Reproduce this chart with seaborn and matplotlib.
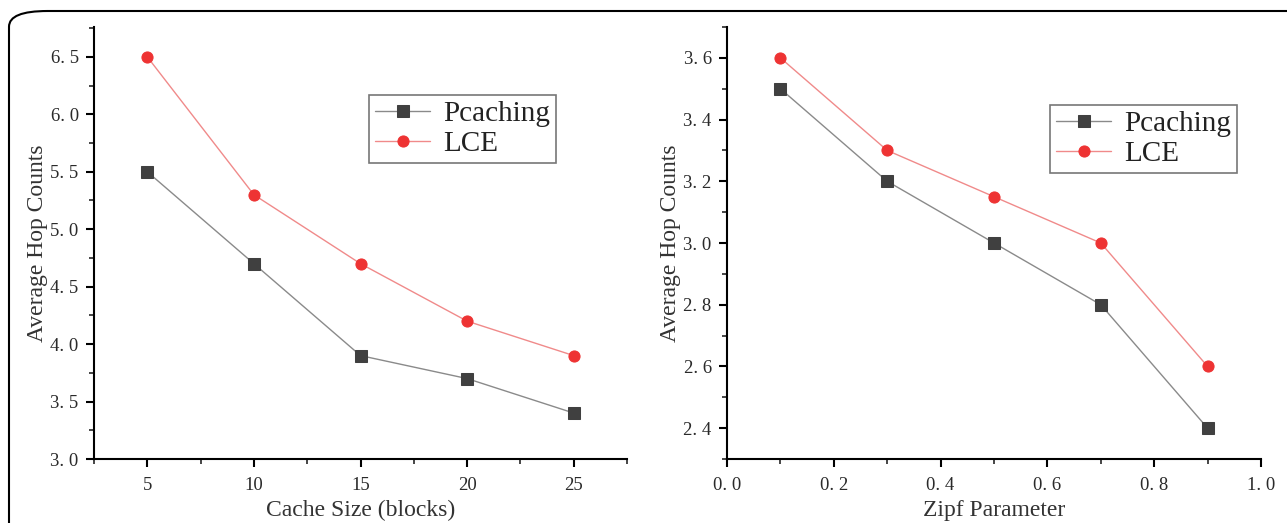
import pandas as pd
import numpy as np
import matplotlib.pyplot as plt
import seaborn as sns
from matplotlib.patches import FancyBboxPatch
from matplotlib.ticker import MultipleLocator, FuncFormatter

sns.set_style("ticks")
plt.rcParams['font.family'] = ['Liberation Serif', 'DejaVu Serif']

# Data
cache_size = [5, 10, 15, 20, 25]
pcaching_cache = [5.5, 4.7, 3.9, 3.7, 3.4]
lce_cache = [6.5, 5.3, 4.7, 4.2, 3.9]

zipf = [0.1, 0.3, 0.5, 0.7, 0.9]
pcaching_zipf = [3.5, 3.2, 3.0, 2.8, 2.4]
lce_zipf = [3.6, 3.3, 3.15, 3.0, 2.6]

series = ["Pcaching", "LCE"]
line_colors = {"Pcaching": "#8a8a8a", "LCE": "#f08a8a"}
marker_colors = {"Pcaching": "#404040", "LCE": "#ee3333"}
markers = {"Pcaching": "s", "LCE": "o"}

df_cache = pd.DataFrame({"x": cache_size * 2,
                         "y": pcaching_cache + lce_cache,
                         "Method": ["Pcaching"] * 5 + ["LCE"] * 5})
df_zipf = pd.DataFrame({"x": zipf * 2,
                        "y": pcaching_zipf + lce_zipf,
                        "Method": ["Pcaching"] * 5 + ["LCE"] * 5})

fig = plt.figure(figsize=(12.87, 5.23), dpi=100)
W, H = 1287, 523

# rounded frame around the figure
frame = FancyBboxPatch((9 / W, -0.1), 1.2, 1.1 - 11 / H,
                       boxstyle="round,pad=0,rounding_size=0.03",
                       transform=fig.transFigure, fill=False,
                       edgecolor="black", linewidth=1.5)
fig.patches.append(frame)

ax1 = fig.add_axes([94 / W, 1 - 459 / H, (627 - 94) / W, (459 - 27) / H])
ax2 = fig.add_axes([727 / W, 1 - 459 / H, (1261 - 727) / W, (459 - 27) / H])

# tick labels written like "6. 5" (wide full stop as in the original)
spaced = FuncFormatter(lambda v, p: ("%.1f" % v).replace(".", ". "))


def draw(ax, df):
    for name in series:
        sub = df[df["Method"] == name]
        sns.lineplot(data=sub, x="x", y="y", ax=ax, color=line_colors[name],
                     linewidth=1.0, marker=markers[name], markersize=8,
                     markerfacecolor=marker_colors[name],
                     markeredgecolor=marker_colors[name], label=name)
    for s in ["top", "right"]:
        ax.spines[s].set_visible(False)
    for s in ["left", "bottom"]:
        ax.spines[s].set_linewidth(1.5)
        ax.spines[s].set_color("black")
    ax.tick_params(which="major", direction="out", length=6, width=1.5,
                   labelsize=13.5, colors="black", labelcolor="#2a2a2a", pad=5)
    ax.tick_params(axis="x", which="major", pad=7)
    ax.tick_params(which="minor", direction="out", length=3.5, width=1.2)
    ax.grid(False)


def add_legend(ax, anchor):
    leg = ax.legend(loc="upper left", bbox_to_anchor=anchor,
                    fontsize=21, frameon=True, fancybox=False, borderpad=0.2,
                    handlelength=1.9, handletextpad=0.45, labelspacing=0.12,
                    borderaxespad=0)
    leg.get_frame().set_edgecolor("#555555")
    leg.get_frame().set_linewidth(1.2)
    for t in leg.get_texts():
        t.set_color("#222222")


draw(ax1, df_cache)
ax1.set_xlim(2.5, 27.5)
ax1.set_ylim(3.0, 6.76)
ax1.xaxis.set_major_locator(MultipleLocator(5))
ax1.xaxis.set_minor_locator(MultipleLocator(2.5))
ax1.yaxis.set_major_locator(MultipleLocator(0.5))
ax1.yaxis.set_minor_locator(MultipleLocator(0.25))
ax1.yaxis.set_major_formatter(spaced)
ax1.set_xlabel("Cache Size (blocks)", fontsize=17, color="#333333", labelpad=4)
ax1.set_ylabel("Average Hop Counts", fontsize=17, color="#333333", labelpad=2)
add_legend(ax1, ((369 - 94) / 533, (459 - 95) / 432))

draw(ax2, df_zipf)
ax2.set_xlim(0.0, 1.0)
ax2.set_ylim(2.3, 3.7)
ax2.xaxis.set_major_locator(MultipleLocator(0.2))
ax2.xaxis.set_minor_locator(MultipleLocator(0.1))
ax2.yaxis.set_minor_locator(MultipleLocator(0.1))
ax2.set_yticks([2.4, 2.6, 2.8, 3.0, 3.2, 3.4, 3.6])
ax2.xaxis.set_major_formatter(spaced)
ax2.yaxis.set_major_formatter(spaced)
ax2.set_xlabel("Zipf Parameter", fontsize=17, color="#333333", labelpad=4)
ax2.set_ylabel("Average Hop Counts", fontsize=17, color="#333333", labelpad=2)
add_legend(ax2, ((1050 - 727) / 534, (459 - 105) / 432))

fig.savefig("out.png", dpi=100)
